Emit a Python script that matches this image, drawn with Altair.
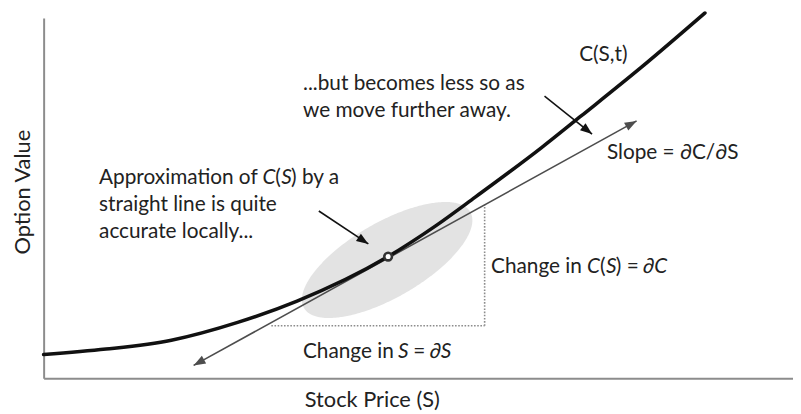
import math
import numpy as np
import pandas as pd
import altair as alt

# ---------------- values (plot units ~ pixels) ----------------
curve_s = [0, 63, 129, 196, 256, 348, 396, 436, 503, 543, 603, 668]
curve_v = [24, 29.5, 38.5, 56.5, 78, 123, 154, 183, 233, 265, 313.5, 369]

tangent_s = [151.5, 599]
tangent_v = [13, 260]

touch_s = [348]
touch_v = [123]

delta_corner_s = [230, 445.5]   # start of dS leg, x of dC leg
delta_corner_v = [53, 175]      # level of dS leg, top of dC leg

ellipse_center = [347, 119.5]
ellipse_axes = [97, 38]
ellipse_tilt = 30

pointer_from_s = [278, 506]
pointer_from_v = [169, 285]
pointer_to_s = [328, 554]
pointer_to_v = [135.7, 246.7]

label_text = ["...but becomes less so as", "we move further away.", "C(S,t)", "Slope = \u2202C/\u2202S",
              "Approximation of", "C", "(", "S", ")", "by a",
              "straight line is quite", "accurate locally...",
              "Change in", "C", "(", "S", ")", "=", "\u2202C",
              "Change in", "S", "=", "\u2202S"]
label_s = [262, 262, 541, 569,
           56, 221, 234, 240, 250, 261,
           56, 56,
           452, 549, 562, 568, 578, 589, 605.5,
           262, 358, 373.5, 390]
label_v = [297, 270, 327, 228,
           202, 202, 202, 202, 202, 202,
           175, 148,
           112, 112, 112, 112, 112, 112, 112,
           27, 27, 27, 27]
label_italic = [0, 0, 0, 0,
                0, 1, 0, 1, 0, 0,
                0, 0,
                0, 1, 0, 1, 0, 0, 1,
                0, 1, 0, 1]

X_MAX, Y_MAX = 757, 364
FONT = "Lato"
FS = 21
TFS = 22
TXT = "#222222"

# ---------------- tables ----------------
curve_df = pd.DataFrame({"s": curve_s, "v": curve_v})

# ellipse outline as upper/lower bounds over s
th = math.radians(ellipse_tilt)
c, sn = math.cos(th), math.sin(th)
a, b = ellipse_axes
P = sn**2 / a**2 + c**2 / b**2
hw = math.sqrt(a**2 * c**2 + b**2 * sn**2)
u = np.linspace(0, math.pi, 181)
xs = -hw * np.cos(u)
Q = 2 * xs * c * sn * (1 / a**2 - 1 / b**2)
R = xs**2 * (c**2 / a**2 + sn**2 / b**2) - 1
disc = np.sqrt(np.clip(Q**2 - 4 * P * R, 0, None))
ell_df = pd.DataFrame({
    "s": xs + ellipse_center[0],
    "v": (-Q + disc) / (2 * P) + ellipse_center[1],
    "v2": (-Q - disc) / (2 * P) + ellipse_center[1],
})

dotted_df = pd.DataFrame({
    "s": [delta_corner_s[0], delta_corner_s[1]],
    "s2": [delta_corner_s[1], delta_corner_s[1]],
    "v": [delta_corner_v[0], delta_corner_v[0]],
    "v2": [delta_corner_v[0], delta_corner_v[1]],
})

tangent_df = pd.DataFrame({"s": [tangent_s[0]], "s2": [tangent_s[1]],
                           "v": [tangent_v[0]], "v2": [tangent_v[1]]})


def heading(fs, fv, ts, tv):
    return (-math.degrees(math.atan2(tv - fv, ts - fs))) % 360


tan_heads = pd.DataFrame({
    "s": [tangent_s[1], tangent_s[0]],
    "v": [tangent_v[1], tangent_v[0]],
    "ang": [heading(tangent_s[0], tangent_v[0], tangent_s[1], tangent_v[1]),
            heading(tangent_s[1], tangent_v[1], tangent_s[0], tangent_v[0])],
})

pointer_df = pd.DataFrame({"s": pointer_from_s, "s2": pointer_to_s,
                           "v": pointer_from_v, "v2": pointer_to_v})
pointer_heads = pd.DataFrame({
    "s": pointer_to_s, "v": pointer_to_v,
    "ang": [heading(f, fv, t, tv) for f, fv, t, tv in
            zip(pointer_from_s, pointer_from_v, pointer_to_s, pointer_to_v)],
})

touch_df = pd.DataFrame({"s": touch_s, "v": touch_v})
labels_df = pd.DataFrame({"t": label_text, "s": label_s, "v": label_v, "it": label_italic})

# ---------------- encodings ----------------
x_enc = alt.X("s:Q", scale=alt.Scale(domain=[0, X_MAX], nice=False, zero=False),
              axis=alt.Axis(title="Stock Price (S)", ticks=False, labels=False, grid=False,
                            domainColor="#8c8c8c", domainWidth=2,
                            titleFont=FONT, titleFontSize=TFS, titleFontWeight="normal",
                            titleColor=TXT, titleX=331.5, titleY=22,
                            titleAlign="center", titleBaseline="middle"))
y_enc = alt.Y("v:Q", scale=alt.Scale(domain=[0, Y_MAX], nice=False, zero=False),
              axis=alt.Axis(title="Option Value", ticks=False, labels=False, grid=False,
                            domainColor="#8c8c8c", domainWidth=2,
                            titleFont=FONT, titleFontSize=TFS, titleFontWeight="normal",
                            titleColor=TXT, titleX=-14, titleY=175.5, titleAngle=270,
                            titleAlign="center", titleBaseline="alphabetic"))

ARROW = "M0,0L-2,-0.75L-2,0.75Z"

ellipse = alt.Chart(ell_df).mark_area(color="#e3e3e3", opacity=1).encode(
    x=x_enc, y=y_enc, y2="v2:Q")

dotted = alt.Chart(dotted_df).mark_rule(color="#8c8c8c", strokeWidth=1.6, strokeDash=[1.6, 1.6]).encode(
    x=x_enc, x2="s2:Q", y=y_enc, y2="v2:Q")

tangent = alt.Chart(tangent_df).mark_rule(color="#4d4d4d", strokeWidth=1.6).encode(
    x=x_enc, x2="s2:Q", y=y_enc, y2="v2:Q")

tangent_tips = alt.Chart(tan_heads).mark_point(shape=ARROW, filled=True, size=144, opacity=1,
                                               color="#4d4d4d", strokeWidth=0).encode(
    x=x_enc, y=y_enc, angle=alt.Angle("ang:Q", scale=None))

curve = alt.Chart(curve_df).mark_line(color="#111111", strokeWidth=3.6, interpolate="monotone",
                                      strokeCap="round").encode(x=x_enc, y=y_enc)

touch = alt.Chart(touch_df).mark_point(shape="circle", filled=True, fill="white", stroke="#333333",
                                       strokeWidth=2.6, size=60, opacity=1).encode(x=x_enc, y=y_enc)

pointers = alt.Chart(pointer_df).mark_rule(color="#111111", strokeWidth=1.6).encode(
    x=x_enc, x2="s2:Q", y=y_enc, y2="v2:Q")

pointer_tips = alt.Chart(pointer_heads).mark_point(shape=ARROW, filled=True, size=144, opacity=1,
                                                   color="#111111", strokeWidth=0).encode(
    x=x_enc, y=y_enc, angle=alt.Angle("ang:Q", scale=None))

text_normal = alt.Chart(labels_df).transform_filter("datum.it == 0").mark_text(
    align="left", baseline="middle", font=FONT, fontSize=FS, color=TXT).encode(
    x=x_enc, y=y_enc, text="t:N")

text_italic = alt.Chart(labels_df).transform_filter("datum.it == 1").mark_text(
    align="left", baseline="middle", font=FONT, fontSize=FS, fontStyle="italic", color=TXT).encode(
    x=x_enc, y=y_enc, text="t:N")

chart = alt.layer(
    ellipse, dotted, tangent, tangent_tips, curve, touch, pointers, pointer_tips,
    text_normal, text_italic
).properties(
    width=X_MAX, height=Y_MAX,
    autosize=alt.AutoSizeParams(type="none"),
    padding={"left": 36, "top": 8, "right": 0, "bottom": 34},
    background="white",
).configure_view(stroke=None)

chart.save("out.html", embed_options={"renderer": "svg", "actions": False})
